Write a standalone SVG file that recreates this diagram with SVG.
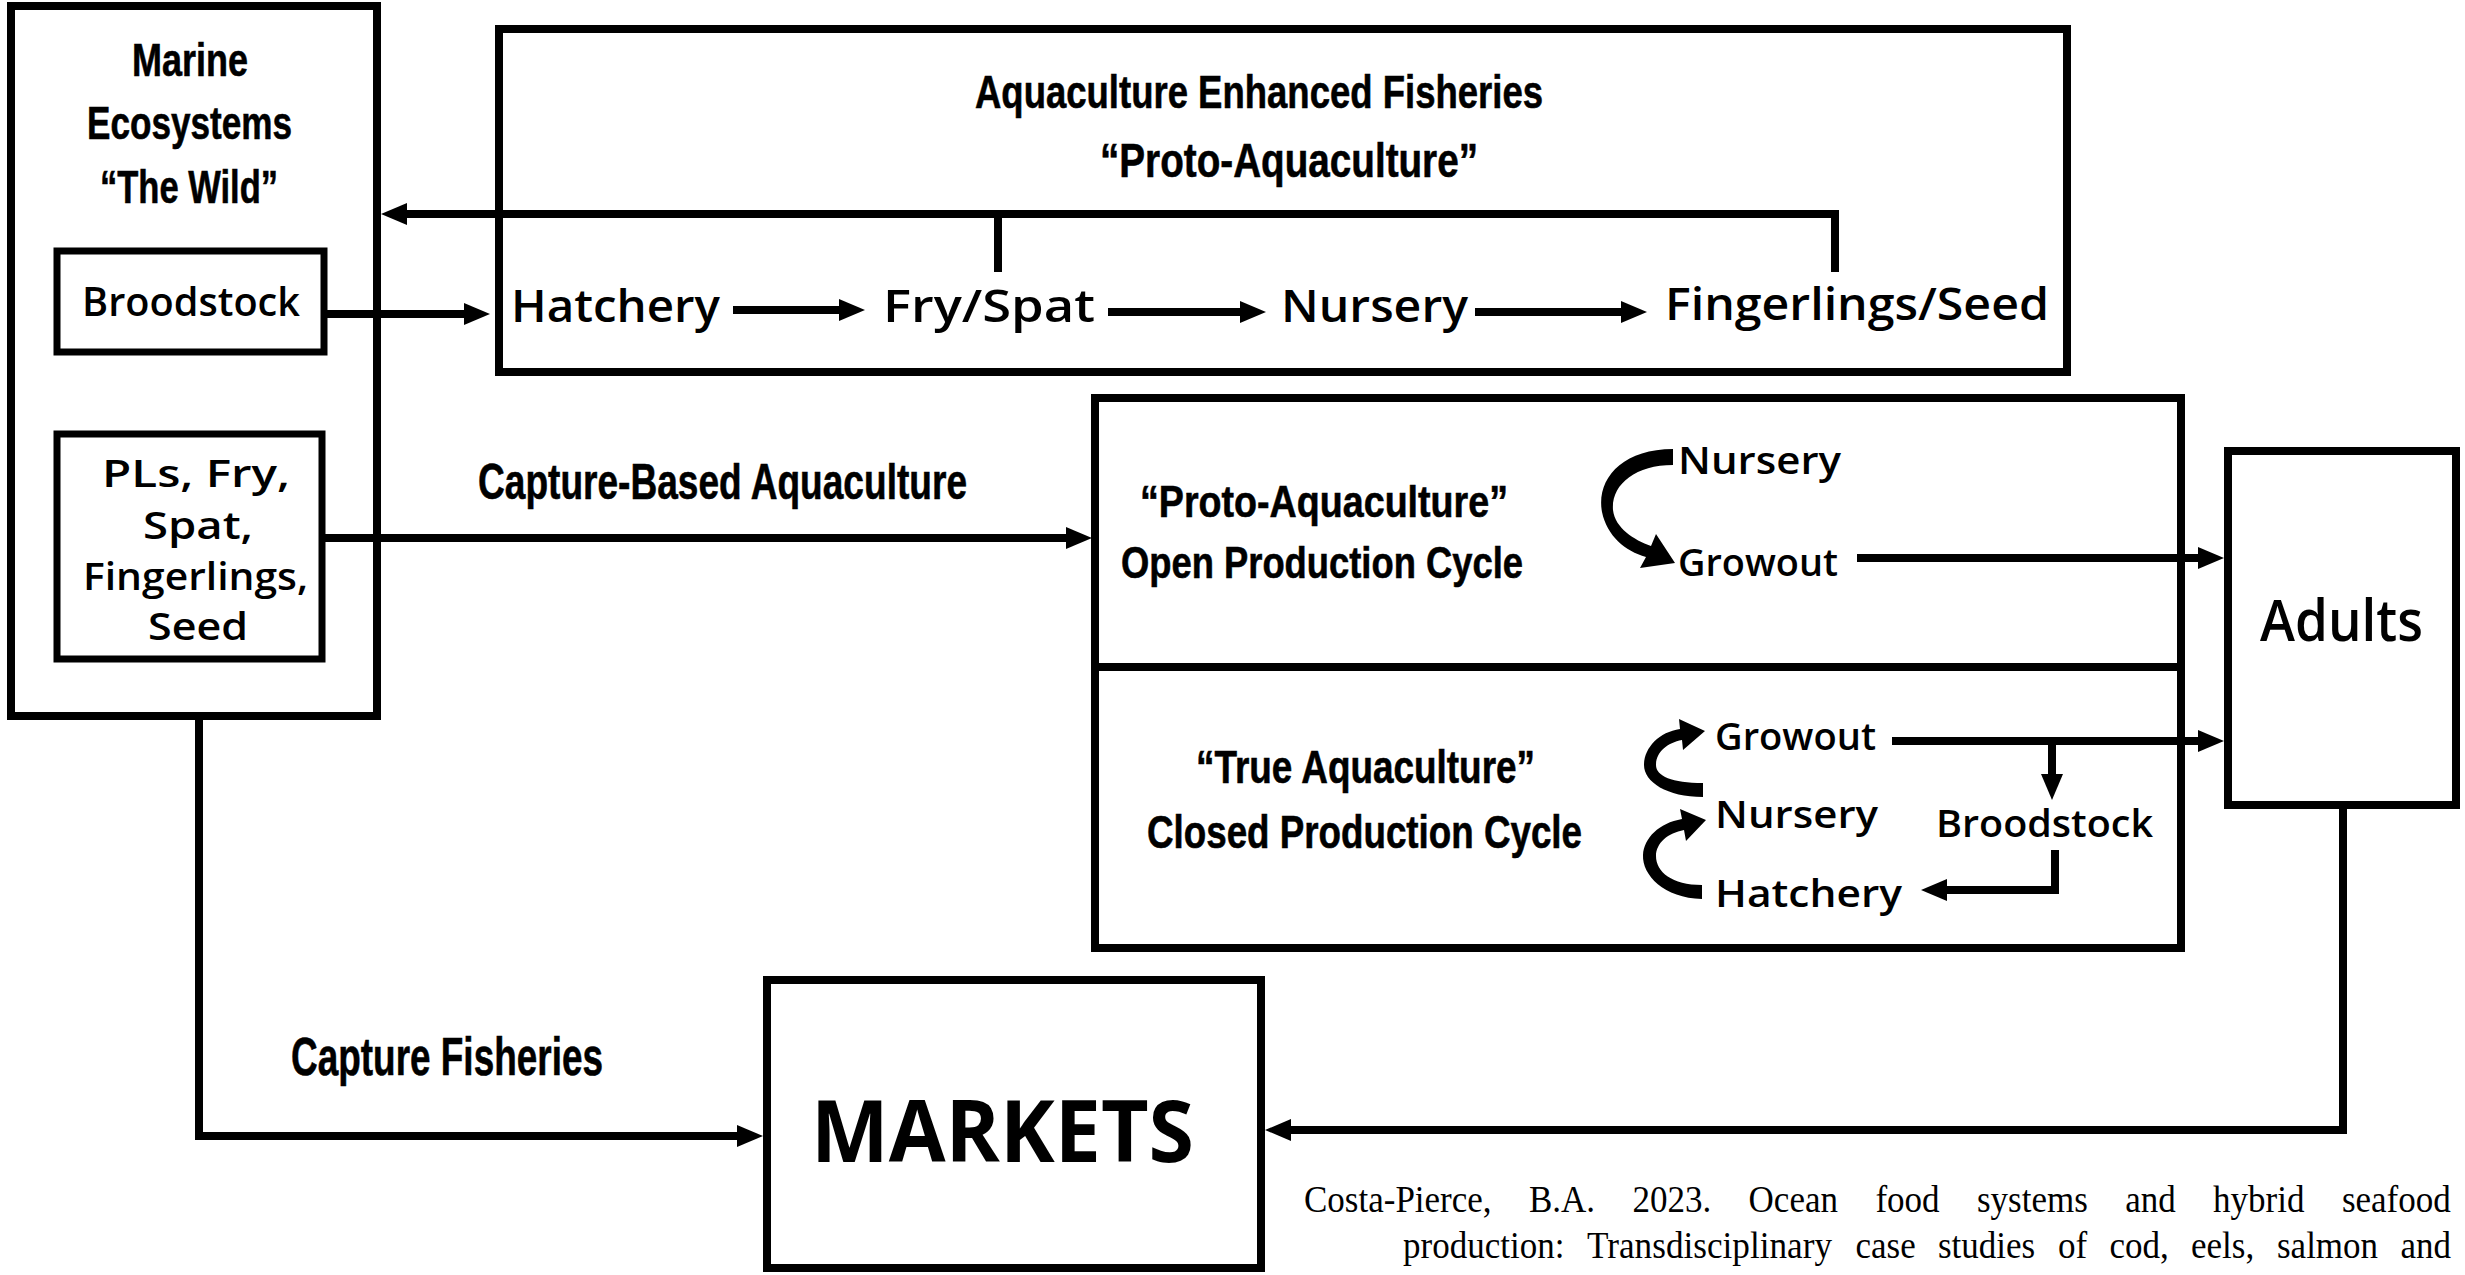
<svg xmlns="http://www.w3.org/2000/svg" width="2465" height="1275" viewBox="0 0 2465 1275">
<style>
.box{fill:#fff;stroke:#000;stroke-width:8}
.sbox{fill:#fff;stroke:#000;stroke-width:7}
.ln{fill:none;stroke:#000;stroke-width:8}
.arr{marker-end:url(#ah)}
.cond{font-family:"Liberation Sans Narrow","Liberation Sans",Arial,sans-serif;font-weight:bold;fill:#000;stroke:#000;stroke-width:0.6}
.comic{font-family:"Open Sans","Noto Sans",sans-serif;font-weight:600;fill:#000}
.mk{font-family:"Open Sans","Noto Sans",sans-serif;font-weight:bold;fill:#000}
.cite{font-family:"Liberation Serif","Times New Roman",serif;font-size:38px;fill:#000}
</style>
<defs>
<marker id="ah" markerUnits="userSpaceOnUse" markerWidth="26" markerHeight="22" refX="14" refY="11" orient="auto">
<path d="M0,0 L26,11 L0,22 Z" fill="#000"/>
</marker>
</defs>
<rect x="0" y="0" width="2465" height="1275" fill="#fff"/>

<g id="marine">
<rect class="box" x="11" y="6" width="366" height="710"/>
<text class="cond" x="132" y="76" font-size="47" textLength="116" lengthAdjust="spacingAndGlyphs">Marine</text>
<text class="cond" x="87" y="139" font-size="47" textLength="205" lengthAdjust="spacingAndGlyphs">Ecosystems</text>
<text class="cond" x="100" y="203" font-size="47" textLength="178" lengthAdjust="spacingAndGlyphs">“The Wild”</text>
</g>
<g id="broodstock-wild">
<rect class="sbox" x="57" y="251" width="267" height="101"/>
<text class="comic" x="82" y="316" font-size="40" textLength="218" lengthAdjust="spacingAndGlyphs">Broodstock</text>
</g>
<g id="pls">
<rect class="sbox" x="57" y="434" width="265" height="225"/>
<text class="comic" x="102" y="487" font-size="38" textLength="188" lengthAdjust="spacingAndGlyphs">PLs, Fry,</text>
<text class="comic" x="143" y="539" font-size="38" textLength="110" lengthAdjust="spacingAndGlyphs">Spat,</text>
<text class="comic" x="83" y="590" font-size="38" textLength="225" lengthAdjust="spacingAndGlyphs">Fingerlings,</text>
<text class="comic" x="148" y="640" font-size="38" textLength="100" lengthAdjust="spacingAndGlyphs">Seed</text>
</g>

<g id="enhanced">
<rect class="box" x="499" y="29" width="1568" height="343"/>
<text class="cond" x="975" y="108" font-size="47" textLength="568" lengthAdjust="spacingAndGlyphs">Aquaculture Enhanced Fisheries</text>
<text class="cond" x="1100" y="177" font-size="49" textLength="378" lengthAdjust="spacingAndGlyphs">“Proto-Aquaculture”</text>
</g>
<g id="hatchery-top"><text class="comic" x="511" y="322" font-size="45" textLength="209" lengthAdjust="spacingAndGlyphs">Hatchery</text></g>
<g id="fry-top"><text class="comic" x="883" y="322" font-size="45" textLength="212" lengthAdjust="spacingAndGlyphs">Fry/Spat</text></g>
<g id="nursery-top"><text class="comic" x="1281" y="322" font-size="45" textLength="187" lengthAdjust="spacingAndGlyphs">Nursery</text></g>
<g id="fingerlings-top"><text class="comic" x="1665" y="320" font-size="45" textLength="384" lengthAdjust="spacingAndGlyphs">Fingerlings/Seed</text></g>

<g id="production">
<rect class="box" x="1095" y="398" width="1086" height="550"/>
<line x1="1095" y1="667" x2="2181" y2="667" stroke="#000" stroke-width="8"/>
<text class="cond" x="1140" y="517" font-size="45" textLength="368" lengthAdjust="spacingAndGlyphs">“Proto-Aquaculture”</text>
<text class="cond" x="1121" y="578" font-size="45" textLength="402" lengthAdjust="spacingAndGlyphs">Open Production Cycle</text>
<text class="cond" x="1196" y="783" font-size="47" textLength="339" lengthAdjust="spacingAndGlyphs">“True Aquaculture”</text>
<text class="cond" x="1147" y="848" font-size="47" textLength="435" lengthAdjust="spacingAndGlyphs">Closed Production Cycle</text>
</g>
<g id="open-nursery"><text class="comic" x="1678" y="474" font-size="38" textLength="163" lengthAdjust="spacingAndGlyphs">Nursery</text></g>
<g id="open-growout"><text class="comic" x="1678" y="576" font-size="38" textLength="160" lengthAdjust="spacingAndGlyphs">Growout</text></g>
<g id="closed-growout"><text class="comic" x="1715" y="750" font-size="38" textLength="161" lengthAdjust="spacingAndGlyphs">Growout</text></g>
<g id="closed-nursery"><text class="comic" x="1715" y="828" font-size="38" textLength="163" lengthAdjust="spacingAndGlyphs">Nursery</text></g>
<g id="closed-hatchery"><text class="comic" x="1715" y="907" font-size="38" textLength="187" lengthAdjust="spacingAndGlyphs">Hatchery</text></g>
<g id="closed-broodstock"><text class="comic" x="1936" y="837" font-size="38" textLength="217" lengthAdjust="spacingAndGlyphs">Broodstock</text></g>

<g id="adults">
<rect class="box" x="2228" y="451" width="228" height="354"/>
<text class="comic" x="2260" y="641" font-size="58" textLength="163" lengthAdjust="spacingAndGlyphs">Adults</text>
</g>
<g id="markets">
<rect class="box" x="767" y="980" width="494" height="288"/>
<text class="mk" x="811" y="1162" font-size="86" textLength="383" lengthAdjust="spacingAndGlyphs">MARKETS</text>
</g>

<g id="labels">
<text class="cond" x="478" y="499" font-size="50" textLength="489" lengthAdjust="spacingAndGlyphs">Capture-Based Aquaculture</text>
<text class="cond" x="291" y="1075" font-size="54" textLength="312" lengthAdjust="spacingAndGlyphs">Capture Fisheries</text>
</g>

<g id="connectors">
<path class="ln arr" d="M1835 272 V214 H393"/>
<path class="ln" d="M998 272 V214"/>
<path class="ln arr" d="M327 314 H478"/>
<path class="ln arr" d="M733 310 H853"/>
<path class="ln arr" d="M1108 312 H1254"/>
<path class="ln arr" d="M1475 312 H1635"/>
<path class="ln arr" d="M325 538 H1080"/>
<path class="ln arr" d="M1857 558 H2212"/>
<path class="ln arr" d="M1892 741 H2212"/>
<path class="ln arr" d="M2052 741 V788"/>
<path class="ln arr" d="M2055 850 V890 H1933"/>
<path class="ln arr" d="M199 720 V1136 H751"/>
<path class="ln arr" d="M2343 805 V1130 H1277"/>
<path d="M1673 449 C1621 449 1596 480 1602 512 C1607 536 1625 551 1646 557 L1640 568 L1675 563 L1656 534 L1651 546 C1634 540 1615 528 1613 510 C1611 485 1635 465 1673 465 Z" fill="#000"/>
<path d="M1703 797 C1667 797 1644 782 1644 765 C1644 748 1659 732 1680 729 L1679 719 L1705 731 L1683 750 L1682 740 C1667 743 1656 752 1656 765 C1656 776 1672 783 1703 783 Z" fill="#000"/>
<path d="M1702 899 C1664 898 1642 875 1643 855 C1644 838 1659 823 1682 819 L1680 809 L1706 820 L1686 841 L1684 830 C1668 833 1656 843 1656 856 C1656 872 1672 885 1702 885 Z" fill="#000"/>
</g>

<g id="citation">
<text class="cite" x="1304" y="1212" textLength="187.6" lengthAdjust="spacingAndGlyphs">Costa-Pierce,</text>
<text class="cite" x="1529" y="1212" textLength="66.1" lengthAdjust="spacingAndGlyphs">B.A.</text>
<text class="cite" x="1632.5" y="1212" textLength="78.8" lengthAdjust="spacingAndGlyphs">2023.</text>
<text class="cite" x="1748.6" y="1212" textLength="89.4" lengthAdjust="spacingAndGlyphs">Ocean</text>
<text class="cite" x="1875.4" y="1212" textLength="64.2" lengthAdjust="spacingAndGlyphs">food</text>
<text class="cite" x="1977" y="1212" textLength="110.8" lengthAdjust="spacingAndGlyphs">systems</text>
<text class="cite" x="2125.2" y="1212" textLength="50.5" lengthAdjust="spacingAndGlyphs">and</text>
<text class="cite" x="2213.1" y="1212" textLength="91.4" lengthAdjust="spacingAndGlyphs">hybrid</text>
<text class="cite" x="2341.9" y="1212" textLength="108.9" lengthAdjust="spacingAndGlyphs">seafood</text>
<text class="cite" x="1403" y="1258" textLength="161.4" lengthAdjust="spacingAndGlyphs">production:</text>
<text class="cite" x="1587" y="1258" textLength="245" lengthAdjust="spacingAndGlyphs">Transdisciplinary</text>
<text class="cite" x="1855.5" y="1258" textLength="60.2" lengthAdjust="spacingAndGlyphs">case</text>
<text class="cite" x="1938" y="1258" textLength="97.2" lengthAdjust="spacingAndGlyphs">studies</text>
<text class="cite" x="2058" y="1258" textLength="29.2" lengthAdjust="spacingAndGlyphs">of</text>
<text class="cite" x="2109.5" y="1258" textLength="59.3" lengthAdjust="spacingAndGlyphs">cod,</text>
<text class="cite" x="2191" y="1258" textLength="63.2" lengthAdjust="spacingAndGlyphs">eels,</text>
<text class="cite" x="2277" y="1258" textLength="101.1" lengthAdjust="spacingAndGlyphs">salmon</text>
<text class="cite" x="2400.4" y="1258" textLength="50.5" lengthAdjust="spacingAndGlyphs">and</text>
</g>
</svg>
